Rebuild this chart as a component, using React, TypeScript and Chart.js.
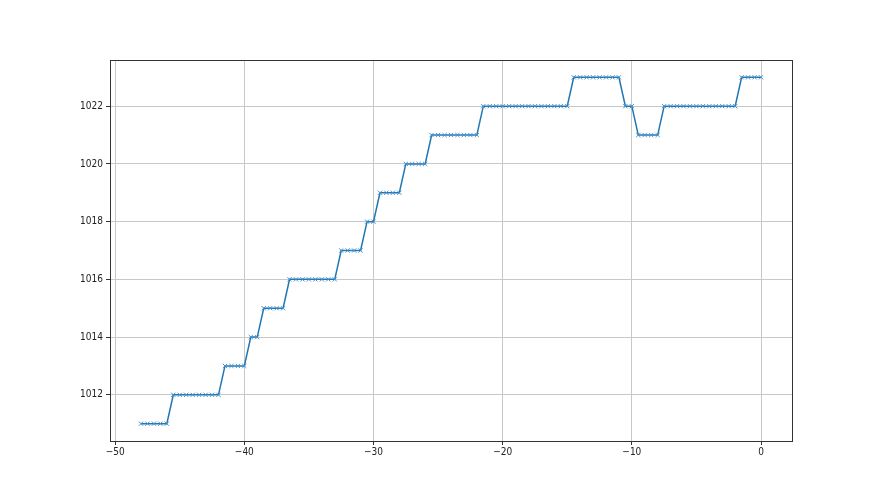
import React, { useEffect, useRef } from "react";
import { Chart, registerables } from "chart.js";

Chart.register(...registerables);

const hours = [
  -48, -47.5, -47, -46.5, -46, -45.5, -45, -44.5, -44, -43.5, -43, -42.5, -42,
  -41.5, -41, -40.5, -40, -39.5, -39, -38.5, -38, -37.5, -37, -36.5, -36, -35.5,
  -35, -34.5, -34, -33.5, -33, -32.5, -32, -31.5, -31, -30.5, -30, -29.5, -29,
  -28.5, -28, -27.5, -27, -26.5, -26, -25.5, -25, -24.5, -24, -23.5, -23, -22.5,
  -22, -21.5, -21, -20.5, -20, -19.5, -19, -18.5, -18, -17.5, -17, -16.5, -16,
  -15.5, -15, -14.5, -14, -13.5, -13, -12.5, -12, -11.5, -11, -10.5, -10, -9.5,
  -9, -8.5, -8, -7.5, -7, -6.5, -6, -5.5, -5, -4.5, -4, -3.5, -3, -2.5, -2, -1.5,
  -1, -0.5, 0,
];

const pressure = [
  1011, 1011, 1011, 1011, 1011,
  1012, 1012, 1012, 1012, 1012, 1012, 1012, 1012,
  1013, 1013, 1013, 1013,
  1014, 1014,
  1015, 1015, 1015, 1015,
  1016, 1016, 1016, 1016, 1016, 1016, 1016, 1016,
  1017, 1017, 1017, 1017,
  1018, 1018,
  1019, 1019, 1019, 1019,
  1020, 1020, 1020, 1020,
  1021, 1021, 1021, 1021, 1021, 1021, 1021, 1021,
  1022, 1022, 1022, 1022, 1022, 1022, 1022, 1022, 1022, 1022, 1022, 1022, 1022, 1022,
  1023, 1023, 1023, 1023, 1023, 1023, 1023, 1023,
  1022, 1022,
  1021, 1021, 1021, 1021,
  1022, 1022, 1022, 1022, 1022, 1022, 1022, 1022, 1022, 1022, 1022, 1022,
  1023, 1023, 1023, 1023,
];

const xTicks = [-50, -40, -30, -20, -10, 0];
const yTicks = [1012, 1014, 1016, 1018, 1020, 1022];

const X_MIN = -50.4;
const X_MAX = 2.4;
const Y_MIN = 1010.4;
const Y_MAX = 1023.6;

const fmtMinus = (v: number) => (v < 0 ? "\u2212" + Math.abs(v) : String(v));

const frame = {
  id: "frame",
  afterDraw(chart: any) {
    const { ctx, chartArea: a } = chart;
    ctx.save();
    ctx.strokeStyle = "#333";
    ctx.lineWidth = 1;
    ctx.strokeRect(
      Math.round(a.left) + 0.5,
      Math.round(a.top) + 0.5,
      Math.round(a.right - a.left),
      Math.round(a.bottom - a.top)
    );
    ctx.restore();
  },
};

export default function App() {
  const ref = useRef<HTMLCanvasElement | null>(null);

  useEffect(() => {
    document.body.style.margin = "0";
    const canvas = ref.current;
    if (!canvas) return;
    const font = {
      family: "'Liberation Sans Narrow', 'DejaVu Sans Condensed', 'Liberation Sans', sans-serif",
      size: 10,
    };
    const chart = new Chart(canvas, {
      type: "line",
      data: {
        datasets: [
          {
            data: hours.map((h, i) => ({ x: h, y: pressure[i] })),
            borderColor: "#1f77b4",
            borderWidth: 1.5,
            pointStyle: "crossRot",
            pointRadius: 3,
            pointBorderColor: "#4a90c8",
            pointBorderWidth: 1,
            pointBackgroundColor: "#1f77b4",
            tension: 0,
            fill: false,
          },
        ],
      },
      plugins: [frame],
      options: {
        responsive: false,
        animation: false,
        events: [],
        layout: { padding: { top: 60, right: 88, left: 0, bottom: 0 } },
        plugins: { legend: { display: false }, tooltip: { enabled: false } },
        scales: {
          x: {
            type: "linear",
            min: X_MIN,
            max: X_MAX,
            afterBuildTicks: (axis: any) => {
              axis.ticks = xTicks.map((v) => ({ value: v }));
            },
            afterFit: (axis: any) => {
              axis.height = 54;
            },
            border: { display: false },
            grid: {
              color: "#c8c8c8",
              lineWidth: 1,
              drawTicks: true,
              tickLength: 4,
              tickColor: "#333",
            },
            ticks: {
              color: "#222",
              font,
              padding: 1,
              maxRotation: 0,
              autoSkip: false,
              callback: (v: any) => fmtMinus(Number(v)),
            },
          },
          y: {
            type: "linear",
            min: Y_MIN,
            max: Y_MAX,
            afterBuildTicks: (axis: any) => {
              axis.ticks = yTicks.map((v) => ({ value: v }));
            },
            afterFit: (axis: any) => {
              axis.width = 110;
            },
            border: { display: false },
            grid: {
              color: "#c8c8c8",
              lineWidth: 1,
              drawTicks: true,
              tickLength: 4,
              tickColor: "#333",
            },
            ticks: {
              color: "#222",
              font,
              padding: 3,
              autoSkip: false,
              callback: (v: any) => String(v),
            },
          },
        },
      },
    } as any);
    return () => chart.destroy();
  }, []);

  return <canvas ref={ref} width={880} height={495} style={{ display: "block" }} />;
}
